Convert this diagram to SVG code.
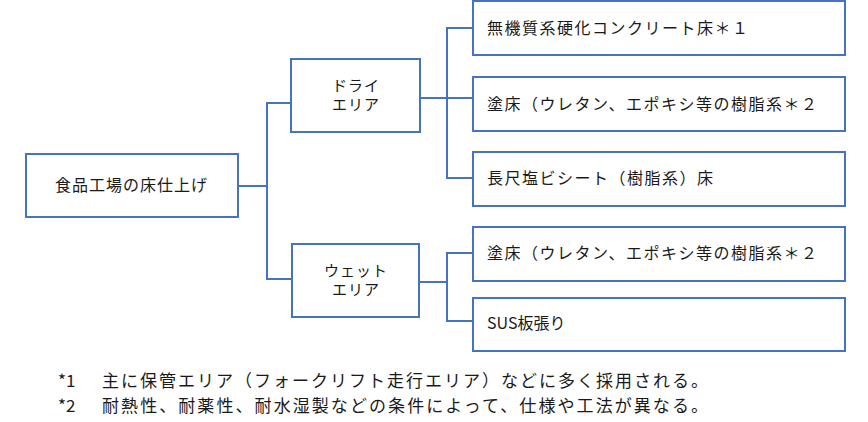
<svg xmlns="http://www.w3.org/2000/svg" width="868" height="422" viewBox="0 0 868 422">
<style>
.box{fill:#fff;stroke:#4472C4;stroke-width:2}
.ln{fill:none;stroke:#4472C4;stroke-width:2}
text{font-family:"Noto Sans CJK JP","Noto Sans",sans-serif;font-size:16px;fill:#1a1a1a}
.c{text-anchor:middle;font-size:15px;letter-spacing:1px}
.r{letter-spacing:1.5px}
.f{font-size:17px}
</style>
<rect width="868" height="422" fill="#fff"/>
<g id="connectors">
<polyline class="ln" points="238,186 267,186"/>
<polyline class="ln" points="291,103 267,103 267,279 292,279"/>
<polyline class="ln" points="420,98 473,98"/>
<polyline class="ln" points="473,28 447,28 447,178 473,178"/>
<polyline class="ln" points="419,282 447,282"/>
<polyline class="ln" points="473,253 447,253 447,321 473,321"/>
</g>
<g id="root">
<rect class="box" x="26" y="154" width="212" height="63"/>
<text x="55" y="191" textLength="152" lengthAdjust="spacing">食品工場の床仕上げ</text>
</g>
<g id="dry">
<rect class="box" x="291" y="59" width="129" height="73"/>
<text class="c" x="356" y="91">ドライ</text>
<text class="c" x="356" y="110">エリア</text>
</g>
<g id="wet">
<rect class="box" x="292" y="244" width="127" height="73"/>
<text class="c" x="356" y="276">ウェット</text>
<text class="c" x="356" y="295">エリア</text>
</g>
<g id="n1">
<rect class="box" x="473" y="1" width="372" height="54"/>
<text class="r" x="487" y="34">無機質系硬化コンクリート床＊１</text>
</g>
<g id="n2">
<rect class="box" x="473" y="77" width="372" height="54"/>
<text class="r" x="487" y="110">塗床（ウレタン、エポキシ等の樹脂系＊２</text>
</g>
<g id="n3">
<rect class="box" x="473" y="152" width="372" height="54"/>
<text class="r" x="487" y="184">長尺塩ビシート（樹脂系）床</text>
</g>
<g id="n4">
<rect class="box" x="473" y="227" width="372" height="54"/>
<text class="r" x="487" y="259">塗床（ウレタン、エポキシ等の樹脂系＊２</text>
</g>
<g id="n5">
<rect class="box" x="473" y="298" width="372" height="53"/>
<text x="487" y="329">SUS板張り</text>
</g>
<g id="notes">
<text class="f" x="58" y="387">*1</text>
<text class="f" x="102" y="387" textLength="606" lengthAdjust="spacing">主に保管エリア（フォークリフト走行エリア）などに多く採用される。</text>
<text class="f" x="58" y="412">*2</text>
<text class="f" x="102" y="412" textLength="606" lengthAdjust="spacing">耐熱性、耐薬性、耐水湿製などの条件によって、仕様や工法が異なる。</text>
</g>
</svg>
